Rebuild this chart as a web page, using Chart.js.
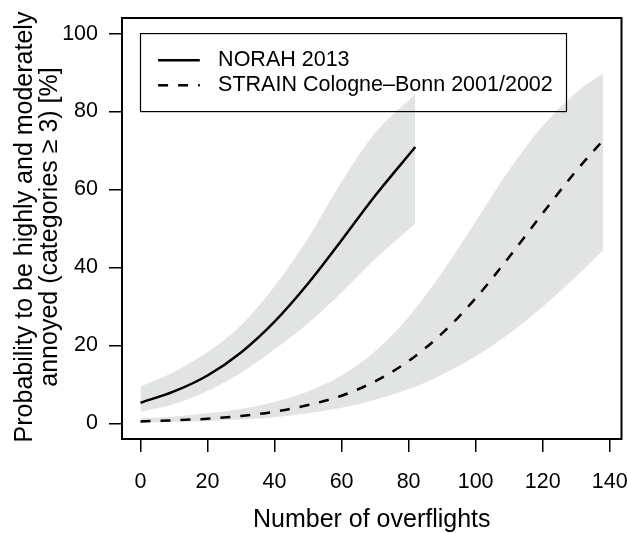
<!DOCTYPE html>
<html lang="en">
<head>
    <meta charset="UTF-8">
    <title>Probability of annoyance vs overflights</title>
    <script src="https://cdn.jsdelivr.net/npm/chart.js"></script>
    <style>
        body { margin: 0; background: #fff; }
        #wrap { width: 628px; height: 533px; }
    </style>
</head>
<body>
    <div id="wrap"><canvas id="annoyChart"></canvas></div>

    <script>
        // values
        const xTicks = [0, 20, 40, 60, 80, 100, 120, 140];
        const yTicks = [0, 20, 40, 60, 80, 100];

        const norahX = [0, 10, 20, 30, 40, 50, 60, 70, 82];
        const norahFit = [5.3, 8.2, 12.3, 18.2, 26.1, 35.9, 47.0, 58.4, 70.9];
        const norahUpper = [9.5, 13.2, 18.3, 25.2, 35.2, 47.5, 62.0, 74.5, 84.5];
        const norahLower = [3.0, 5.0, 8.3, 13.0, 19.0, 25.7, 33.6, 42.2, 51.3];

        const strainX = [0, 10, 20, 30, 40, 50, 60, 70, 80, 90, 100, 110, 120, 130, 138];
        const strainFit = [0.5, 0.8, 1.2, 1.9, 3.0, 4.7, 7.1, 10.8, 16.0, 23.1, 32.1, 42.7, 53.9, 64.8, 72.6];
        const strainUpper = [1.3, 1.8, 2.6, 3.7, 5.5, 8.2, 12.3, 18.5, 27.3, 38.7, 51.8, 65.0, 76.3, 84.9, 89.8];
        const strainLower = [0.2, 0.35, 0.6, 1.0, 1.6, 2.6, 4.0, 6.1, 8.8, 12.5, 17.2, 23.0, 29.9, 37.7, 44.4];

        const seriesNames = ['NORAH 2013', 'STRAIN Cologne\u2013Bonn 2001/2002'];
        const xTitle = 'Number of overflights';
        const yTitle = ['Probability to be highly and moderately', 'annoyed (categories \u2265 3) [%]'];

        const FONT = "'Liberation Sans', Arial, sans-serif";
        const BAND = 'rgb(226, 227, 227)';
        const DASH = [10, 10];

        const pts = (xs, ys) => xs.map((x, i) => ({ x: x, y: ys[i] }));

        function line(label, xs, ys, dash) {
            return {
                label, data: pts(xs, ys),
                borderColor: '#000', borderWidth: 2.5, borderDash: dash,
                pointRadius: 0, fill: false, cubicInterpolationMode: 'monotone'
            };
        }
        function bandEdge(xs, ys, fill) {
            return {
                data: pts(xs, ys),
                borderWidth: 0, borderColor: 'rgba(0,0,0,0)',
                backgroundColor: BAND, pointRadius: 0,
                fill: fill, cubicInterpolationMode: 'monotone'
            };
        }

        // box, legend and axis titles drawn the R way
        const rPlot = {
            id: 'rPlot',
            afterDraw(chart) {
                const { ctx, chartArea: a, scales: { x, y } } = chart;
                ctx.save();
                ctx.strokeStyle = '#000';
                ctx.fillStyle = '#000';
                ctx.lineWidth = 2;
                ctx.strokeRect(a.left, a.top, a.right - a.left, a.bottom - a.top);

                const lx = x.getPixelForValue(0), ly = y.getPixelForValue(100);
                ctx.lineWidth = 1.2;
                ctx.strokeRect(lx, ly, 426, 78);
                ctx.font = '21.5px ' + FONT;
                ctx.textBaseline = 'middle';
                ctx.textAlign = 'left';
                [[], DASH].forEach((d, i) => {
                    const yy = ly + 26.7 + i * 25;
                    ctx.lineWidth = 2.5;
                    ctx.setLineDash(d);
                    ctx.beginPath();
                    ctx.moveTo(lx + 17.6, yy);
                    ctx.lineTo(lx + 59.3, yy);
                    ctx.stroke();
                    ctx.setLineDash([]);
                    ctx.fillText(seriesNames[i], lx + 77.6, yy);
                });

                ctx.font = '25px ' + FONT;
                ctx.textAlign = 'center';
                ctx.textBaseline = 'alphabetic';
                ctx.fillText(xTitle, (a.left + a.right) / 2, 527);
                yTitle.forEach((t, i) => {
                    ctx.save();
                    ctx.translate(31.7 + i * 25, 227);
                    ctx.rotate(-Math.PI / 2);
                    ctx.fillText(t, 0, 0);
                    ctx.restore();
                });
                ctx.restore();
            }
        };

        function axis(min, max, ticks, pad, extra) {
            return Object.assign({
                type: 'linear', min, max,
                afterBuildTicks: s => { s.ticks = ticks.map(v => ({ value: v })); },
                border: { display: false },
                grid: { drawOnChartArea: false, drawTicks: true, tickLength: 13, color: '#000', lineWidth: 1.5 },
                ticks: { color: '#000', padding: pad, font: { family: FONT, size: 21.5 }, maxRotation: 0, autoSkip: false }
            }, extra);
        }

        new Chart(document.getElementById('annoyChart'), {
            type: 'line',
            data: {
                datasets: [
                    line(seriesNames[0], norahX, norahFit, []),
                    line(seriesNames[1], strainX, strainFit, DASH),
                    bandEdge(norahX, norahUpper, '+1'),
                    bandEdge(norahX, norahLower, false),
                    bandEdge(strainX, strainUpper, '+1'),
                    bandEdge(strainX, strainLower, false)
                ]
            },
            options: {
                responsive: true,
                maintainAspectRatio: false,
                animation: false,
                layout: { padding: { top: 18, right: 6.5, left: 0, bottom: 0 } },
                plugins: { legend: { display: false }, tooltip: { enabled: false } },
                scales: {
                    x: axis(-5.52, 143.52, xTicks, 17, {
                        afterFit: s => { s.height = 94; s.paddingLeft = 0; s.paddingRight = 0; }
                    }),
                    y: axis(-4, 104, yTicks, 11, {
                        afterFit: s => { s.width = 122; s.paddingTop = 0; s.paddingBottom = 0; }
                    })
                }
            },
            plugins: [rPlot]
        });
    </script>
</body>
</html>
